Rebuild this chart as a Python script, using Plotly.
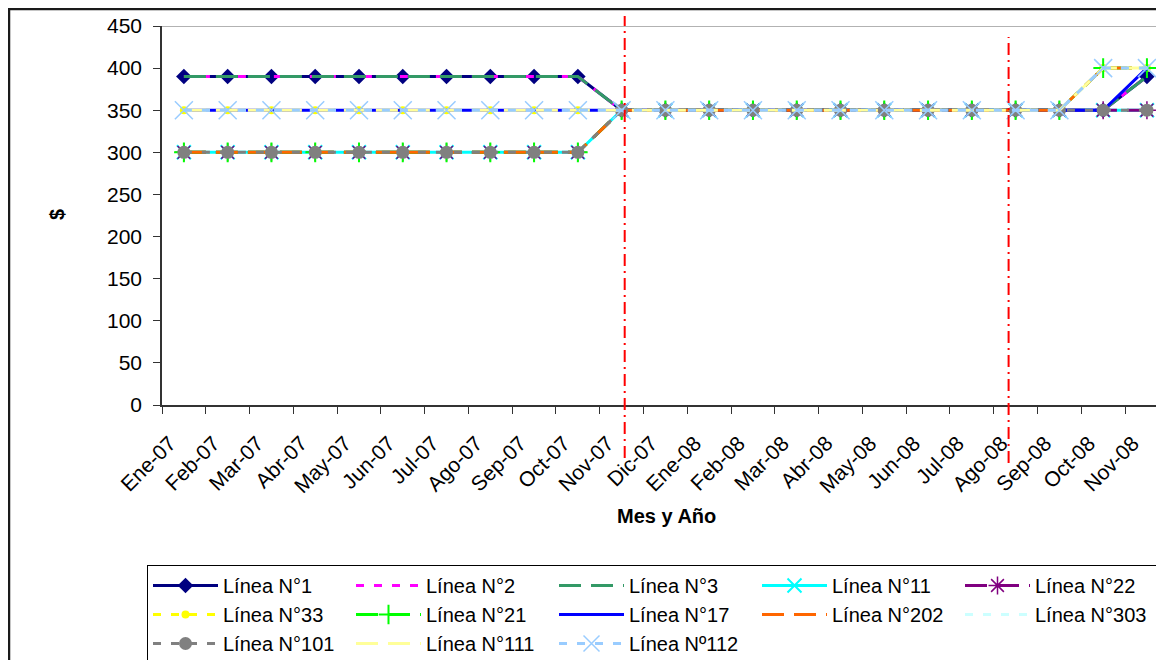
import plotly.graph_objects as go

months = ["Ene-07", "Feb-07", "Mar-07", "Abr-07", "May-07", "Jun-07", "Jul-07", "Ago-07",
          "Sep-07", "Oct-07", "Nov-07", "Dic-07", "Ene-08", "Feb-08", "Mar-08", "Abr-08",
          "May-08", "Jun-08", "Jul-08", "Ago-08", "Sep-08", "Oct-08", "Nov-08"]

linea_1 = [390, 390, 390, 390, 390, 390, 390, 390, 390, 390, 350, 350, 350, 350, 350, 350, 350, 350, 350, 350, 350, 350, 390]
linea_2 = [390, 390, 390, 390, 390, 390, 390, 390, 390, 390, 350, 350, 350, 350, 350, 350, 350, 350, 350, 350, 350, 350, 390]
linea_3 = [390, 390, 390, 390, 390, 390, 390, 390, 390, 390, 350, 350, 350, 350, 350, 350, 350, 350, 350, 350, 350, 350, 390]
linea_11 = [300, 300, 300, 300, 300, 300, 300, 300, 300, 300, 350, 350, 350, 350, 350, 350, 350, 350, 350, 350, 350, 350, 350]
linea_22 = [300, 300, 300, 300, 300, 300, 300, 300, 300, 300, 350, 350, 350, 350, 350, 350, 350, 350, 350, 350, 350, 350, 350]
linea_33 = [350, 350, 350, 350, 350, 350, 350, 350, 350, 350, 350, 350, 350, 350, 350, 350, 350, 350, 350, 350, 350, 400, 400]
linea_21 = [300, 300, 300, 300, 300, 300, 300, 300, 300, 300, 350, 350, 350, 350, 350, 350, 350, 350, 350, 350, 350, 400, 400]
linea_17 = [350, 350, 350, 350, 350, 350, 350, 350, 350, 350, 350, 350, 350, 350, 350, 350, 350, 350, 350, 350, 350, 350, 400]
linea_202 = [300, 300, 300, 300, 300, 300, 300, 300, 300, 300, 350, 350, 350, 350, 350, 350, 350, 350, 350, 350, 350, 400, 400]
linea_303 = [350, 350, 350, 350, 350, 350, 350, 350, 350, 350, 350, 350, 350, 350, 350, 350, 350, 350, 350, 350, 350, 400, 400]
linea_101 = [300, 300, 300, 300, 300, 300, 300, 300, 300, 300, 350, 350, 350, 350, 350, 350, 350, 350, 350, 350, 350, 350, 350]
linea_111 = [350, 350, 350, 350, 350, 350, 350, 350, 350, 350, 350, 350, 350, 350, 350, 350, 350, 350, 350, 350, 350, 400, 400]
linea_112 = [350, 350, 350, 350, 350, 350, 350, 350, 350, 350, 350, 350, 350, 350, 350, 350, 350, 350, 350, 350, 350, 400, 400]

y_ticks = [0, 50, 100, 150, 200, 250, 300, 350, 400, 450]

FONT = "Liberation Sans, Arial, sans-serif"
SHORT = "8px,10px"
LONG = "22px,10px"

series = [
    ("Línea N°1", linea_1, "#000080", "solid", dict(symbol="diamond", size=12, color="#000080")),
    ("Línea N°2", linea_2, "#FF00FF", SHORT, None),
    ("Línea N°3", linea_3, "#339966", LONG, None),
    ("Línea N°11", linea_11, "#00FFFF", "solid", dict(symbol="x-thin-open", size=14, color="#00FFFF", line=dict(color="#00FFFF", width=2))),
    ("Línea N°22", linea_22, "#800080", LONG, dict(symbol="asterisk-open", size=15, color="#800080", line=dict(color="#800080", width=1.5))),
    ("Línea N°33", linea_33, "#FFFF00", SHORT, dict(symbol="circle", size=8, color="#FFFF00")),
    ("Línea N°21", linea_21, "#00FF00", LONG, dict(symbol="cross-thin-open", size=14, color="#00FF00", line=dict(color="#00FF00", width=2))),
    ("Línea N°17", linea_17, "#0000FF", "solid", None),
    ("Línea N°202", linea_202, "#FF6600", LONG, None),
    ("Línea N°303", linea_303, "#CCFFFF", SHORT, None),
    ("Línea N°101", linea_101, "#808080", SHORT, dict(symbol="circle", size=13, color="#808080")),
    ("Línea N°111", linea_111, "#FFFF99", LONG, None),
    ("Línea Nº112", linea_112, "#99CCFF", SHORT, dict(symbol="x-thin-open", size=18, color="#99CCFF", line=dict(color="#99CCFF", width=1.5))),
]

fig = go.Figure()
for name, vals, color, dash, marker in series:
    kw = dict(x=months, y=vals, name=name, line=dict(color=color, width=3, dash=dash))
    if marker:
        kw["mode"] = "lines+markers"
        kw["marker"] = marker
    else:
        kw["mode"] = "lines"
    fig.add_trace(go.Scatter(**kw))

# page coords: plot area spans x 162..1164, y 26..405 (page has an 8px body margin)
def px(page_x):
    return (page_x - 162) / 1002.0

def py(page_y):
    return (405 - page_y) / 379.0

fig.add_shape(type="rect", xref="paper", yref="paper", x0=px(9), x1=px(1175), y0=py(680), y1=py(9),
              line=dict(color="#1a1a1a", width=2.5), layer="below")
fig.add_shape(type="line", xref="paper", yref="y", x0=0, x1=1, y0=450, y1=450,
              line=dict(color="#999999", width=1.5))
fig.add_shape(type="line", xref="x", yref="paper", x0=10.07, x1=10.07, y0=py(458), y1=py(16),
              line=dict(color="#FF0000", width=2, dash="12px,5px,2px,5px"))
fig.add_shape(type="line", xref="x", yref="paper", x0=18.84, x1=18.84, y0=py(463), y1=py(37),
              line=dict(color="#FF0000", width=2, dash="12px,5px,2px,5px"))

fig.add_annotation(text="<b>Mes y Año</b>", xref="paper", yref="paper",
                   x=px(666), y=py(516), showarrow=False,
                   font=dict(family=FONT, size=20, color="black"), xanchor="center", yanchor="middle")
fig.add_annotation(text="<b>$</b>", xref="paper", yref="paper",
                   x=px(57), y=py(215), showarrow=False, textangle=-90,
                   font=dict(family=FONT, size=20, color="black"), xanchor="center", yanchor="middle")

fig.update_layout(
    width=1156, height=652,
    margin=dict(l=154, r=0, t=18, b=255, autoexpand=False),
    paper_bgcolor="white", plot_bgcolor="white",
    font=dict(family=FONT, size=20, color="black"),
    showlegend=True,
    legend=dict(orientation="h", x=px(147), y=py(565), xanchor="left", yanchor="top",
                entrywidth=123, entrywidthmode="pixels", itemwidth=65,
                bordercolor="black", borderwidth=1, bgcolor="white",
                font=dict(family=FONT, size=20, color="black"), traceorder="normal"),
    xaxis=dict(type="category", range=[-0.5, 22.39], showgrid=False, zeroline=False,
               automargin=False,
               showline=True, linecolor="#333333", linewidth=1.5,
               ticks="outside", ticklen=7, tickcolor="#333333", tickson="boundaries",
               ticklabelshift=-14, ticklabelstandoff=16,
               tickangle=-45, tickfont=dict(family=FONT, size=21, color="black")),
    yaxis=dict(range=[0, 450], tickvals=y_ticks, showgrid=False, zeroline=False,
               automargin=False,
               showline=True, linecolor="#333333", linewidth=1.5,
               ticks="outside", ticklen=7, tickcolor="#333333", ticklabelstandoff=7,
               tickfont=dict(family=FONT, size=21, color="black")),
)

fig.write_html("out.html")
